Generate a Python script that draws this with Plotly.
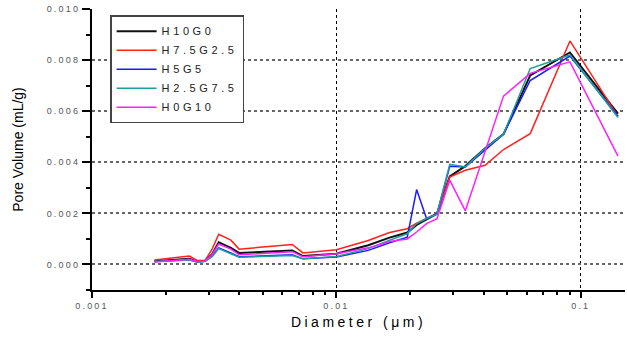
import plotly.graph_objects as go

# Diameter (um)
diameter = [0.0018, 0.0022, 0.0025, 0.0027, 0.0029, 0.0031, 0.0033, 0.0037, 0.0040,
            0.0066, 0.0073, 0.0100, 0.0135, 0.0165, 0.0195, 0.0213, 0.0234, 0.0258,
            0.0291, 0.0337, 0.0406, 0.0483, 0.0621, 0.0903, 0.142]

# Pore volume (x 1e-3 mL/g)
h10g0 = [0.13, 0.18, 0.22, 0.12, 0.15, 0.40, 0.87, 0.65, 0.45,
         0.55, 0.33, 0.42, 0.75, 1.05, 1.25, 1.55, 1.75, 1.98,
         3.45, 3.85, 4.55, 5.10, 7.40, 8.30, 5.90]
h75g25 = [0.17, 0.25, 0.33, 0.15, 0.15, 0.60, 1.18, 0.95, 0.60,
          0.78, 0.45, 0.58, 0.94, 1.25, 1.40, 1.62, 1.80, 2.00,
          3.42, 3.69, 3.88, 4.50, 5.12, 8.75, 5.80]
h5g5 = [0.12, 0.15, 0.18, 0.10, 0.12, 0.32, 0.65, 0.45, 0.30,
        0.38, 0.22, 0.29, 0.55, 0.85, 1.07, 2.93, 1.79, 1.99,
        3.84, 3.82, 4.50, 5.10, 7.20, 8.16, 5.80]
h25g75 = [0.12, 0.14, 0.17, 0.10, 0.12, 0.30, 0.62, 0.42, 0.28,
          0.35, 0.22, 0.31, 0.62, 0.95, 1.20, 1.60, 1.80, 1.97,
          3.92, 3.82, 4.55, 5.10, 7.67, 8.20, 5.75]
h0g10 = [0.10, 0.15, 0.20, 0.12, 0.13, 0.38, 0.80, 0.60, 0.38,
         0.50, 0.30, 0.42, 0.65, 0.90, 1.00, 1.27, 1.60, 1.79,
         3.30, 2.10, 4.40, 6.59, 7.48, 7.93, 4.24]

series_names = ["H10G0", "H7.5G2.5", "H5G5", "H2.5G7.5", "H0G10"]
series_values = [h10g0, h75g25, h5g5, h25g75, h0g10]
series_colors = ["#111111", "#ff2020", "#1a1aff", "#1f9e9e", "#ff20ff"]
series_widths = [2, 1.5, 1.5, 1.5, 1.5]

y_ticks = [0.000, 0.002, 0.004, 0.006, 0.008, 0.010]
y_ticktext = ["0.000", "0.002", "0.004", "0.006", "0.008", "0.010"]
x_ticks = [0.001, 0.01, 0.1]
x_ticktext = ["0.001", "0.01", "0.1"]


def spaced(text, px):
    return '<span style="letter-spacing:%.1fpx">%s</span>' % (px, text)


fig = go.Figure()
for name, vals, col, w in zip(series_names, series_values, series_colors, series_widths):
    fig.add_trace(go.Scatter(
        x=diameter, y=[v * 1e-3 for v in vals], mode="lines",
        name=spaced(name, 3.6), line=dict(color=col, width=w)))

x_minor = [m * 10 ** e for e in (-3, -2, -1) for m in range(2, 10) if m * 10 ** e < 0.152]
y_minor = [-0.001, 0.001, 0.003, 0.005, 0.007, 0.009]

fig.update_layout(
    width=627, height=337,
    margin=dict(l=92, r=2, t=9, b=47),
    paper_bgcolor="white", plot_bgcolor="white",
    font=dict(family="Liberation Sans, Arial, sans-serif", color="#000"),
    showlegend=True,
    legend=dict(x=0.034, y=0.978, xanchor="left", yanchor="top",
                bgcolor="white", bordercolor="#444", borderwidth=1.5,
                font=dict(size=11, color="#222"), tracegroupgap=0,
                itemwidth=40),
    xaxis=dict(type="log", range=[-3, -0.819],
               tickvals=x_ticks, ticktext=[spaced(t, 2.2) for t in x_ticktext],
               tickfont=dict(size=9, color="#555"),
               ticks="outside", ticklen=6, tickwidth=1.5, tickcolor="#000",
               showline=True, linecolor="#000", linewidth=1.5,
               showgrid=True, gridcolor="#000", gridwidth=1, griddash="dot",
               zeroline=False,
               minor=dict(tickmode="array", tickvals=x_minor, ticks="outside",
                          ticklen=3, tickwidth=1.5, tickcolor="#000", showgrid=False),
               title=dict(text=spaced("Diameter (μm)", 3.5), font=dict(size=14, color="#000"),
                          standoff=8)),
    yaxis=dict(range=[-0.001, 0.010],
               tickvals=y_ticks, ticktext=[spaced(t, 2.2) for t in y_ticktext],
               tickfont=dict(size=9, color="#555"),
               ticks="outside", ticklen=8, tickwidth=1.5, tickcolor="#000",
               showline=True, linecolor="#000", linewidth=2,
               showgrid=True, gridcolor="#666", gridwidth=1.5, griddash="dot",
               zeroline=False,
               minor=dict(tickmode="array", tickvals=y_minor, ticks="outside",
                          ticklen=4, tickwidth=1.5, tickcolor="#000", showgrid=False),
               title=dict(text="Pore Volume (mL/g)", font=dict(size=14, color="#000"),
                          standoff=20)),
)

fig.write_html("out.html")
